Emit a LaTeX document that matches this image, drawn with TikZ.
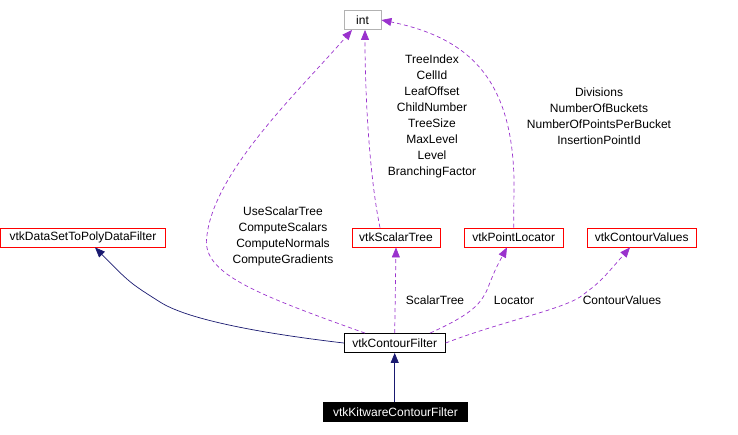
\documentclass[tikz,border=0pt]{standalone}
\usepackage{fontspec}
\setmainfont{Liberation Sans}
\usepackage{xcolor}
\usetikzlibrary{arrows.meta}
\definecolor{inh}{HTML}{191970}
\definecolor{use}{HTML}{9A32CD}
\begin{document}
\begin{tikzpicture}[
  x=1pt, y=-1pt,
  font=\fontsize{12}{16}\selectfont,
  cls/.style={draw=red, line width=0.8pt, fill=white, inner sep=0pt, minimum height=19pt},
  prim/.style={draw=black!30, line width=0.8pt, fill=white, inner sep=0pt, minimum height=19pt},
  base/.style={draw=black, line width=0.8pt, fill=white, inner sep=0pt, minimum height=19pt},
  leaf/.style={draw=black, fill=black, text=white, inner sep=0pt, minimum height=19pt},
  isa/.style={inh, line width=0.7pt, -{Triangle[length=10pt,width=8pt]}},
  hasa/.style={use, line width=0.7pt, dash pattern=on 4pt off 3pt, -{Triangle[length=10pt,width=8pt]}},
  mbr/.style={align=center, inner sep=0pt},
]
\useasboundingbox (0,0) rectangle (738,434);
% classes
\node[prim, minimum width=37pt]  (int)    at (362.5,20)  {int};
\node[cls, minimum width=165pt]  (dsfilt) at (83,237.5)  {vtkDataSetToPolyDataFilter};
\node[cls, minimum width=88pt]   (stree)  at (396,237.5) {vtkScalarTree};
\node[cls, minimum width=99pt]   (ploc)   at (513.7,237.5) {vtkPointLocator};
\node[cls, minimum width=109pt]  (cvals)  at (641.7,237.5) {vtkContourValues};
\node[base, minimum width=101pt] (cf)     at (394.7,343) {vtkContourFilter};
\node[leaf, minimum width=144pt] (kcf)    at (395.5,412) {vtkKitwareContourFilter};
% inheritance
\draw[isa] (kcf.north -| cf.south) -- (cf.south);
\draw[isa] (cf.west) .. controls (250,332) and (185,318) .. (160,302)
      .. controls (130,283) .. (dsfilt.south east -| 95,0);
% members
\draw[hasa] (cf.north -| 365,0) .. controls (250,292) and (200,272) .. (207,235)
      .. controls (215,170) and (300,90) .. (int.south -| 352,0);
\draw[hasa] (stree.north -| 380,0) .. controls (370,180) and (365,100) .. (int.south -| 365,0);
\draw[hasa] (ploc.north) -- (514,180) .. controls (512,80) and (470,38) .. (int.east);
\draw[hasa] (cf.north) -- (stree.south);
\draw[hasa] (cf.north -| 430,0) .. controls (470,315) and (480,305) .. (487,290)
      .. controls (495,270) .. (ploc.south -| 507,0);
\draw[hasa] (cf.east) .. controls (500,322) and (560,310) .. (580,297)
      .. controls (600,282) .. (cvals.south -| 630,0);
% labels
\node[mbr] (lcf)    at (283,236) {UseScalarTree\\ComputeScalars\\ComputeNormals\\ComputeGradients};
\node[mbr] (ltree)  at (432,116) {TreeIndex\\CellId\\LeafOffset\\ChildNumber\\TreeSize\\MaxLevel\\Level\\BranchingFactor};
\node[mbr] (lloc)   at (599,116) {Divisions\\NumberOfBuckets\\NumberOfPointsPerBucket\\InsertionPointId};
\node[mbr] (lstree) at (435,300) {ScalarTree};
\node[mbr] (lploc)  at (514,300) {Locator};
\node[mbr] (lcvals) at (622,300) {ContourValues};
\end{tikzpicture}
\end{document}
